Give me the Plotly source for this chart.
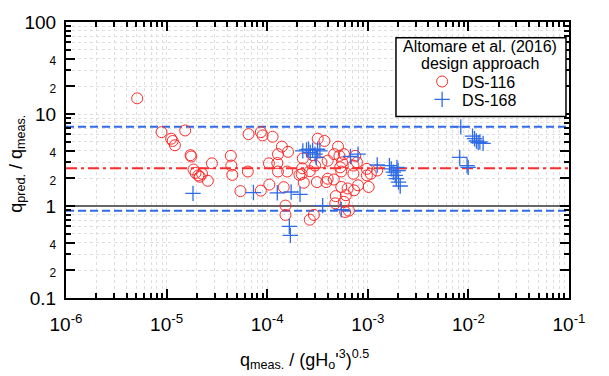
import plotly.graph_objects as go

# DS-116 (red circles)
ds116_x = [5.1e-6, 8.9e-6, 1.11e-5, 1.15e-5, 1.21e-5, 1.53e-5, 1.73e-5, 1.76e-5, 1.85e-5, 1.94e-5,
           2.07e-5, 2.14e-5, 2.25e-5, 2.57e-5, 2.82e-5, 4.35e-5, 4.4e-5, 4.5e-5, 5.42e-5, 6.42e-5,
           6.53e-5, 8.65e-5, 9.0e-5, 8.65e-5, 1.05e-4, 1.13e-4, 1.04e-4, 1.26e-4, 1.28e-4, 1.28e-4,
           1.40e-4, 1.46e-4, 1.52e-4, 1.52e-4, 1.58e-4, 1.61e-4, 2.23e-4, 2.26e-4, 2.31e-4, 2.09e-4,
           2.2e-4, 2.65e-4, 2.91e-4, 2.65e-4, 2.99e-4, 3.12e-4, 3.18e-4, 2.83e-4, 3.46e-4, 3.71e-4,
           3.86e-4, 3.99e-4, 3.99e-4, 4.59e-4, 4.63e-4, 4.75e-4, 4.8e-4, 5.06e-4, 5.22e-4, 5.32e-4,
           5.45e-4, 5.45e-4, 5.55e-4, 5.79e-4, 5.79e-4, 5.95e-4, 6.05e-4, 6.3e-4, 6.48e-4, 7.2e-4,
           7.2e-4, 7.3e-4, 7.5e-4, 7.8e-4, 8.0e-4, 9.8e-4, 9.8e-4, 1.02e-3, 1.07e-3, 1.24e-3]
ds116_y = [14.8, 6.35, 5.39, 5.09, 4.57, 6.62, 3.57, 3.45, 2.49, 2.29,
           2.15, 2.08, 2.24, 1.88, 2.91, 3.51, 2.75, 2.18, 1.45, 2.37,
           6.04, 6.35, 5.85, 1.47, 1.71, 5.66, 2.91, 2.93, 3.66, 2.37,
           4.42, 1.60, 1.01, 0.80, 2.37, 3.88, 2.57, 3.29, 1.79, 2.18,
           2.22, 0.71, 0.80, 2.39, 2.75, 1.82, 5.39, 3.57, 2.98, 5.09,
           1.82, 3.11, 1.98, 1.94, 3.66, 1.07, 1.28, 4.42, 3.51, 2.63,
           2.37, 1.61, 2.98, 3.66, 1.11, 0.86, 1.31, 1.55, 0.89, 2.75,
           2.24, 1.48, 3.51, 2.98, 1.68, 2.53, 2.15, 1.61, 2.24, 2.43]

# DS-168 (blue crosses)
ds168_x = [1.83e-5, 7.3e-5, 1.26e-4, 1.73e-4, 2.12e-4, 1.66e-4, 1.70e-4, 3.56e-4, 2.26e-4, 2.46e-4,
           2.58e-4, 2.68e-4, 2.83e-4, 2.99e-4, 3.17e-4, 3.34e-4, 3.07e-4, 6.73e-4, 8.0e-4, 5.45e-4,
           1.24e-3, 1.64e-3, 1.71e-3, 1.79e-3, 1.87e-3, 1.92e-3, 2.0e-3, 2.02e-3, 2.1e-3, 1.95e-3,
           8.4e-3, 8.2e-3, 9.7e-3, 9.95e-3, 1.10e-2, 1.15e-2, 1.2e-2, 1.25e-2, 1.3e-2, 1.4e-2]
ds168_y = [1.37, 1.40, 1.39, 1.42, 1.34, 0.60, 0.48, 1.01, 3.97, 4.07,
           4.14, 3.81, 4.04, 3.66, 4.14, 3.97, 3.37, 3.45, 3.66, 0.91,
           2.79, 2.75, 2.53, 2.33, 2.15, 1.98, 2.43, 1.82, 1.65, 2.63,
           7.24, 3.37, 2.75, 2.63, 5.75, 5.39, 5.09, 4.88, 4.96, 4.8]

# reference lines: mean ratio and its spread band, plus perfect agreement
ratio_mean = 2.57
ratio_upper = 7.25
ratio_lower = 0.89
ratio_unity = 1.0
x_span = [1e-6, 1e-1]

x_tickvals = [1e-6, 1e-5, 1e-4, 1e-3, 1e-2, 1e-1]
x_ticktext = ["10<sup>-6</sup>", "10<sup>-5</sup>", "10<sup>-4</sup>", "10<sup>-3</sup>",
              "10<sup>-2</sup>", "10<sup>-1</sup>"]
y_tickvals = [0.1, 0.2, 0.4, 1, 2, 4, 10, 20, 40, 100]
y_ticklabels = ["0.1", "2", "4", "1", "2", "4", "10", "2", "4", "100"]

FONT = "Arial, Liberation Sans, sans-serif"
RED = "#ff2a2a"
BLUE = "#2f6be6"
GRID = "#dedede"


def small(t):
    return "<span style='font-size:12px'>%s</span>" % t


y_ticktext = [t if t in ("0.1", "1", "10", "100") else small(t) for t in y_ticklabels]

x_minor = [m * 10 ** e for e in range(-6, -1) for m in range(2, 10)]
y_minor = [m * 10 ** e for e in range(-1, 2) for m in range(2, 10)]

fig = go.Figure()

fig.add_trace(go.Scatter(x=x_span, y=[ratio_unity] * 2, mode="lines",
                         line=dict(color="#666666", width=2), showlegend=False, hoverinfo="skip"))
fig.add_trace(go.Scatter(x=x_span, y=[ratio_upper] * 2, mode="lines",
                         line=dict(color=BLUE, width=2, dash="8px,4px"), showlegend=False, hoverinfo="skip"))
fig.add_trace(go.Scatter(x=x_span, y=[ratio_lower] * 2, mode="lines",
                         line=dict(color=BLUE, width=2, dash="8px,4px"), showlegend=False, hoverinfo="skip"))
fig.add_trace(go.Scatter(x=x_span, y=[ratio_mean] * 2, mode="lines",
                         line=dict(color=RED, width=2, dash="11px,4px,3px,4px"), showlegend=False, hoverinfo="skip"))

fig.add_trace(go.Scatter(x=ds116_x, y=ds116_y, mode="markers", name="DS-116", legend="legend",
                         marker=dict(symbol="circle-open", size=11, color=RED, line=dict(width=1))))
fig.add_trace(go.Scatter(x=ds168_x, y=ds168_y, mode="markers", name="DS-168", legend="legend2",
                         marker=dict(symbol="cross-thin-open", size=11, color=BLUE, line=dict(width=1.3, color=BLUE))))

axis_common = dict(
    type="log", showline=True, linecolor="black", linewidth=2, mirror="ticks",
    ticks="inside", ticklen=9, tickwidth=2, tickcolor="black",
    showgrid=True, gridcolor=GRID, griddash="dot", gridwidth=1,
    zeroline=False, tickfont=dict(family=FONT, size=19, color="black"),
)
minor_common = dict(tickmode="array", ticks="inside", ticklen=5, tickwidth=1.5, tickcolor="black",
                    showgrid=True, gridcolor=GRID, griddash="dot", gridwidth=1)

fig.update_xaxes(
    **axis_common, range=[-6, -1], tickmode="array", tickvals=x_tickvals, ticktext=x_ticktext,
    ticklabelstandoff=8, minor=dict(tickvals=x_minor, **minor_common),
)
fig.update_yaxes(
    **axis_common, range=[-1, 2], tickmode="array", tickvals=y_tickvals, ticktext=y_ticktext,
    ticklabelstandoff=4, minor=dict(tickvals=y_minor, **minor_common),
)

# legend frame and its two-line heading
fig.add_shape(type="rect", xref="paper", yref="paper", x0=0.656, x1=0.994, y0=0.658, y1=0.943,
              fillcolor="white", line=dict(color="black", width=1.5), layer="above")
fig.add_annotation(xref="paper", yref="paper", x=0.824, y=0.912, xanchor="center", yanchor="middle",
                   text="Altomare et al. (2016)", showarrow=False,
                   font=dict(family=FONT, size=16, color="black"))
fig.add_annotation(xref="paper", yref="paper", x=0.824, y=0.851, xanchor="center", yanchor="middle",
                   text="design approach", showarrow=False,
                   font=dict(family=FONT, size=16, color="black"))

# axis titles
fig.add_annotation(xref="paper", yref="paper", x=-0.097, y=0.487, xanchor="center", yanchor="middle",
                   textangle=-90, showarrow=False,
                   text="q<sub>pred.</sub> / q<sub>meas.</sub>",
                   font=dict(family=FONT, size=18, color="black"))
fig.add_annotation(xref="paper", yref="paper", x=0.474, y=-0.17, xanchor="center", yanchor="top",
                   showarrow=False,
                   text="q<sub>meas.</sub> / (gH<sub>o</sub>'<sup>3</sup>)<sup>0.5</sup>",
                   font=dict(family=FONT, size=18, color="black"))

legend_common = dict(xanchor="left", yanchor="top", bgcolor="rgba(0,0,0,0)", borderwidth=0,
                     font=dict(family=FONT, size=16, color="black"), itemwidth=30)

fig.update_layout(
    width=609, height=376,
    margin=dict(l=66, r=40, t=17, b=78),
    paper_bgcolor="white", plot_bgcolor="white",
    font=dict(family=FONT, color="black"),
    legend=dict(x=0.708, y=0.8456, **legend_common),
    legend2=dict(x=0.708, y=0.781, **legend_common),
    showlegend=True,
)

fig.write_html("out.html")
